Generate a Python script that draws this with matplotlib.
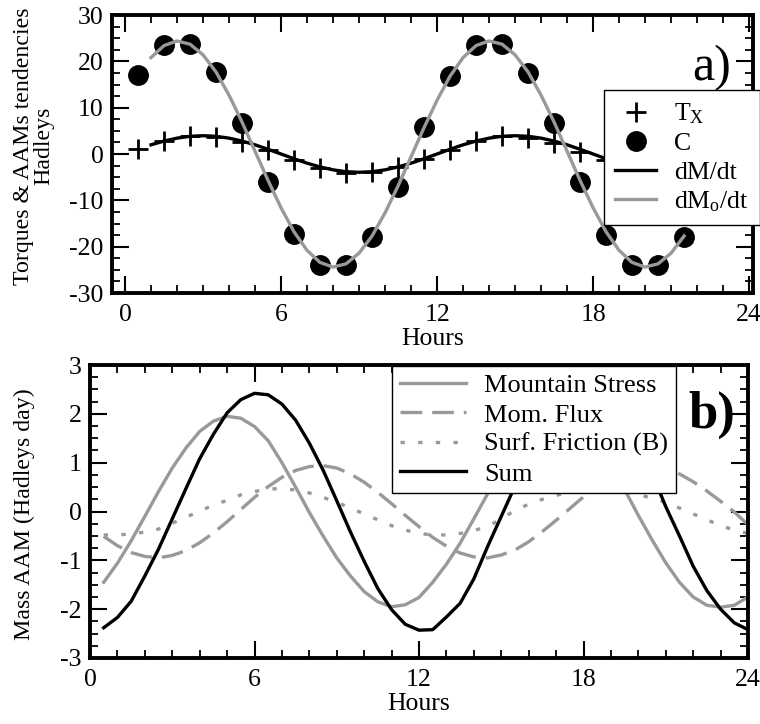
import numpy as np
from matplotlib import pyplot as plt
from matplotlib.ticker import MultipleLocator

plt.rcParams['font.family'] = ['Liberation Serif', 'DejaVu Serif']
plt.rcParams['mathtext.fontset'] = 'custom'
plt.rcParams['mathtext.rm'] = 'Liberation Serif'
plt.rcParams['mathtext.it'] = 'Liberation Serif:italic'
plt.rcParams['axes.unicode_minus'] = False

# ---- panel a) torques & AAM tendencies (Hadleys)
hours_pts = [0.5, 1.5, 2.5, 3.5, 4.5, 5.5, 6.5, 7.5, 8.5, 9.5, 10.5,
             11.5, 12.5, 13.5, 14.5, 15.5, 16.5, 17.5, 18.5, 19.5, 20.5, 21.5]
torque_x = [1.0, 2.7, 3.8, 3.7, 2.5, 0.8, -1.3, -3.0, -4.0, -3.9, -2.7,
            -1.0, 0.9, 2.7, 3.8, 3.5, 2.3, 0.5, -1.3, -3.0, -3.9, -3.9]
c_term = [17.0, 23.5, 23.8, 17.6, 6.7, -6.0, -17.3, -24.0, -24.0, -17.9, -7.1,
          5.9, 16.8, 23.5, 23.8, 17.4, 6.7, -6.0, -17.5, -24.0, -24.0, -17.9]

hours_line = [1.0, 1.5, 2.0, 2.5, 3.0, 3.5, 4.0, 4.5, 5.0, 5.5, 6.0, 6.5,
              7.0, 7.5, 8.0, 8.5, 9.0, 9.5, 10.0, 10.5, 11.0, 11.5, 12.0,
              12.5, 13.0, 13.5, 14.0, 14.5, 15.0, 15.5, 16.0, 16.5, 17.0, 17.5,
              18.0, 18.5, 19.0, 19.5, 20.0, 20.5, 21.0, 21.5]
dm_dt = [1.98, 2.79, 3.42, 3.82, 3.95, 3.82, 3.42, 2.79, 1.98, 1.02, 0.0, -1.02,
         -1.98, -2.79, -3.42, -3.82, -3.95, -3.82, -3.42, -2.79, -1.98, -1.02, 0.0,
         1.02, 1.98, 2.79, 3.42, 3.82, 3.95, 3.82, 3.42, 2.79, 1.98, 1.02,
         0.0, -1.02, -1.98, -2.79, -3.42, -3.82, -3.95, -3.82]
dmo_dt = [20.8, 23.4, 24.4, 23.7, 21.4, 17.7, 12.7, 6.9, 0.6, -5.7, -11.6, -16.8,
          -20.8, -23.4, -24.4, -23.7, -21.4, -17.7, -12.7, -6.9, -0.6, 5.7, 11.6,
          16.8, 20.8, 23.4, 24.4, 23.7, 21.4, 17.7, 12.7, 6.9, 0.6, -5.7,
          -11.6, -16.8, -20.8, -23.4, -24.4, -23.7, -21.4, -17.7]

# ---- panel b) mass AAM (Hadleys day)
hours_b = [0.5, 1.0, 1.5, 2.0, 2.5, 3.0, 3.5, 4.0, 4.5, 5.0, 5.5, 6.0,
           6.5, 7.0, 7.5, 8.0, 8.5, 9.0, 9.5, 10.0, 10.5, 11.0, 11.5, 12.0,
           12.5, 13.0, 13.5, 14.0, 14.5, 15.0, 15.5, 16.0, 16.5, 17.0, 17.5, 18.0,
           18.5, 19.0, 19.5, 20.0, 20.5, 21.0, 21.5, 22.0, 22.5, 23.0, 23.5, 24.0]
mountain = [-1.45, -1.06, -0.60, -0.10, 0.41, 0.89, 1.30, 1.64, 1.85, 1.95, 1.91, 1.74,
            1.45, 1.00, 0.50, -0.02, -0.50, -0.95, -1.32, -1.64, -1.85, -1.95, -1.91, -1.76,
            -1.45, -1.08, -0.65, -0.15, 0.36, 0.85, 1.27, 1.62, 1.84, 1.95, 1.92, 1.76,
            1.45, 0.95, 0.45, -0.08, -0.58, -1.05, -1.45, -1.75, -1.92, -1.96, -1.92, -1.75]
mom_flux = [-0.51, -0.70, -0.84, -0.92, -0.95, -0.90, -0.80, -0.64, -0.44, -0.21, 0.04, 0.29,
            0.51, 0.70, 0.84, 0.92, 0.94, 0.89, 0.77, 0.60, 0.39, 0.16, -0.08, -0.31,
            -0.53, -0.71, -0.85, -0.93, -0.95, -0.89, -0.79, -0.62, -0.41, -0.18, 0.06, 0.30,
            0.52, 0.70, 0.84, 0.92, 0.93, 0.88, 0.77, 0.61, 0.42, 0.21, -0.01, -0.27]
friction = [-0.48, -0.48, -0.46, -0.42, -0.36, -0.24, -0.12, 0.01, 0.13, 0.23, 0.34, 0.41,
            0.46, 0.47, 0.44, 0.38, 0.29, 0.19, 0.07, -0.05, -0.17, -0.29, -0.38, -0.45,
            -0.48, -0.48, -0.45, -0.39, -0.31, -0.15, 0.02, 0.15, 0.25, 0.33, 0.40, 0.45,
            0.47, 0.46, 0.42, 0.35, 0.27, 0.19, 0.07, -0.05, -0.17, -0.29, -0.38, -0.45]
total = [-2.38, -2.17, -1.84, -1.32, -0.77, -0.15, 0.47, 1.08, 1.58, 2.02, 2.29, 2.42,
         2.39, 2.20, 1.87, 1.40, 0.85, 0.22, -0.42, -1.02, -1.58, -2.01, -2.31, -2.43,
         -2.42, -2.16, -1.88, -1.38, -0.72, -0.10, 0.52, 1.12, 1.64, 2.05, 2.32, 2.43,
         2.39, 2.19, 1.84, 1.35, 0.78, 0.10, -0.50, -1.12, -1.62, -2.00, -2.28, -2.42]

GRAY = '#999999'
FS = 18.5


def style_axes(ax, xminor, ymajor, yminor):
    ax.xaxis.set_major_locator(MultipleLocator(6))
    ax.xaxis.set_minor_locator(MultipleLocator(xminor))
    ax.yaxis.set_major_locator(MultipleLocator(ymajor))
    ax.yaxis.set_minor_locator(MultipleLocator(yminor))
    ax.tick_params(which='both', direction='in', top=True, right=True, labelsize=FS)
    ax.tick_params(which='major', length=12, width=1.5, pad=6)
    ax.tick_params(which='minor', length=6, width=1.3)
    ax.tick_params(axis='x', which='major', pad=8)
    for s in ax.spines.values():
        s.set_linewidth(2.8)


fig = plt.figure(figsize=(7.6, 7.24), dpi=100)

# panel a
ax1 = fig.add_axes([112/760, 1-293/724, 641/760, 278/724])
ax1.plot(hours_pts, torque_x, linestyle='none', marker='+', color='black',
         markersize=15, markeredgewidth=2.0, label=r'T$_\mathrm{X}$')
ax1.plot(hours_pts, c_term, linestyle='none', marker='o', color='black',
         markersize=14, label='C')
ax1.plot(hours_line, dm_dt, color='black', lw=2.4, label='dM/dt')
ax1.plot(hours_line, dmo_dt, color=GRAY, lw=2.4, label=r'dM$_\mathrm{o}$/dt')
ax1.set_xlim(-0.5, 24.15)
ax1.set_ylim(-30, 30)
style_axes(ax1, 1, 10, 2.5)
ax1.set_xlabel('Hours', fontsize=FS, labelpad=1)
ax1.text(0.966, 0.81, 'a)', transform=ax1.transAxes, ha='right', va='center', fontsize=36)
leg1 = ax1.legend(loc='upper left', bbox_to_anchor=(0.767, 0.73), borderaxespad=0,
                  fontsize=FS, frameon=True, fancybox=False, framealpha=1,
                  edgecolor='black', handlelength=1.6, labelspacing=0.22,
                  handletextpad=0.7, borderpad=0.45)
leg1.get_frame().set_linewidth(1.0)

# panel b
ax2 = fig.add_axes([90/760, 1-658/724, 658/760, 293/724])
ax2.plot(hours_b, mountain, color=GRAY, lw=2.4, label='Mountain Stress')
ax2.plot(hours_b, mom_flux, color=GRAY, lw=2.4, dashes=(6.5, 3.0), label='Mom. Flux')
ax2.plot(hours_b, friction, color=GRAY, lw=2.4, dashes=(1.3, 4.0), label='Surf. Friction (B)')
ax2.plot(hours_b, total, color='black', lw=2.4, label='Sum')
ax2.set_xlim(0, 24)
ax2.set_ylim(-3, 3)
style_axes(ax2, 1, 1, 0.25)
ax2.set_xlabel('Hours', fontsize=FS, labelpad=1)
ax2.text(0.98, 0.829, 'b)', transform=ax2.transAxes, ha='right', va='center',
         fontsize=38, fontweight='bold')
leg2 = ax2.legend(loc='upper left', bbox_to_anchor=(0.459, 0.997), borderaxespad=0,
                  fontsize=19, frameon=True, fancybox=False, framealpha=1,
                  edgecolor='black', handlelength=2.5, labelspacing=0.22,
                  handletextpad=0.7, borderpad=0.3)
leg2.get_frame().set_linewidth(1.0)

fig.text(34/760, 1-146/724, 'Torques & AAMs tendencies\nHadleys', rotation=90,
         ha='center', va='center', multialignment='center', fontsize=17.2, linespacing=0.95)
fig.text(24/760, 1-514/724, 'Mass AAM (Hadleys day)', rotation=90,
         ha='center', va='center', fontsize=17.2)

plt.savefig('out.png', dpi=100)
